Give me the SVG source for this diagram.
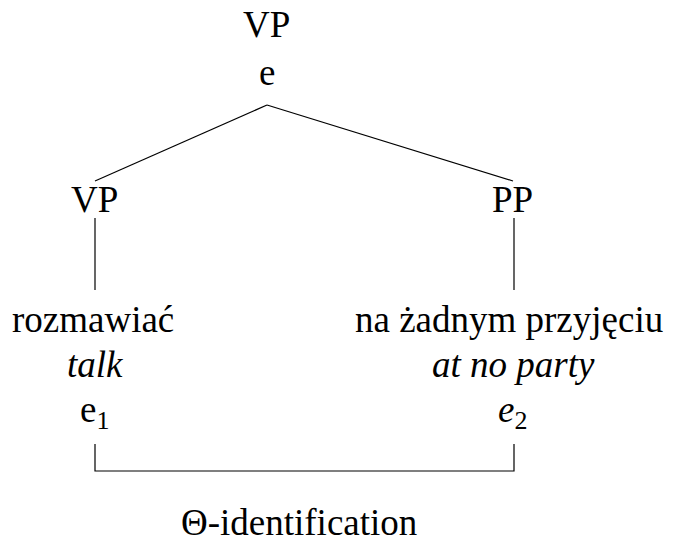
<svg xmlns="http://www.w3.org/2000/svg" width="676" height="547" viewBox="0 0 676 547">
  <rect width="676" height="547" fill="#fff"/>

  <!-- tree edges and the bracket share one stroke, set on the group -->
  <g id="connectors" stroke="#000" stroke-width="1.2" fill="none">
    <line x1="267" y1="105" x2="95" y2="181"/>
    <line x1="267" y1="105" x2="513" y2="181"/>
    <line x1="95" y1="218" x2="95" y2="290"/>
    <line x1="514" y1="218" x2="514" y2="290"/>
    <polyline points="95,444 95,471 514,471 514,444"/>
  </g>

  <!-- labels are left-aligned at x positions that centre them over their column -->
  <g id="root">
    <text x="243" y="37" font-family="Liberation Serif" font-size="37">VP</text>
    <text x="259" y="85" font-family="Liberation Serif" font-size="37">e</text>
  </g>

  <g id="vp">
    <text x="71" y="212" font-family="Liberation Serif" font-size="37">VP</text>
  </g>

  <g id="pp">
    <text x="492" y="212" font-family="Liberation Serif" font-size="37">PP</text>
  </g>

  <g id="verb">
    <text x="12" y="332" font-family="Liberation Serif" font-size="37">rozmawiać</text>
    <text x="67" y="377" font-family="Liberation Serif" font-size="37" font-style="italic">talk</text>
    <text x="80" y="422" font-family="Liberation Serif" font-size="37">e<tspan font-size="26" dy="7">1</tspan></text>
  </g>

  <g id="prep">
    <text x="355" y="332" font-family="Liberation Serif" font-size="37">na żadnym przyjęciu</text>
    <text x="432" y="377" font-family="Liberation Serif" font-size="37" font-style="italic">at no party</text>
    <text x="498" y="422" font-family="Liberation Serif" font-size="37" font-style="italic">e<tspan font-size="26" font-style="normal" dy="7">2</tspan></text>
  </g>

  <g id="label">
    <text x="181" y="535" font-family="Liberation Serif" font-size="37">Θ-identification</text>
  </g>
</svg>
